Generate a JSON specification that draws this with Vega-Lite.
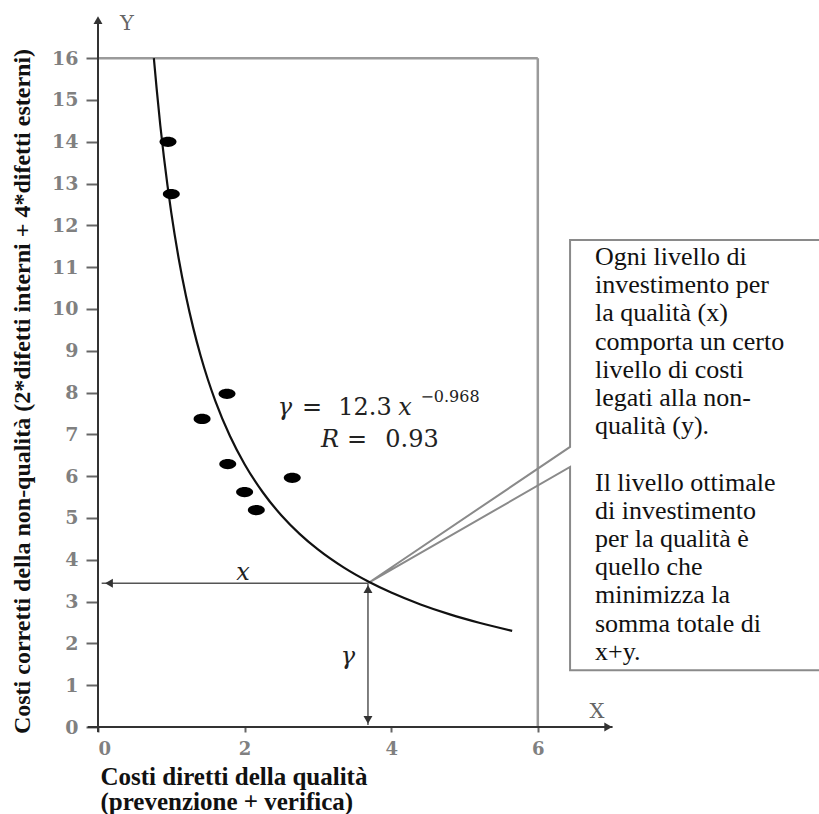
{
  "$schema": "https://vega.github.io/schema/vega-lite/v6.json",
  "width": 721,
  "height": 727,
  "autosize": {"type": "none"},
  "padding": {"left": 98, "top": 0, "right": 0, "bottom": 87},
  "background": "white",
  "config": {"view": {"stroke": null}},
  "datasets": {
    "box": [
      {"x": 0, "y": 16, "x2": 6, "y2": 16},
      {"x": 6, "y": 0, "x2": 6, "y2": 16}
    ],
    "axes": [
      {"x": -0.14, "y": 0, "x2": 7.02, "y2": 0},
      {"x": 0, "y": -0.12, "x2": 0, "y2": 16.95}
    ],
    "dims": [
      {"x": 0.05, "y": 3.44, "x2": 3.683, "y2": 3.44},
      {"x": 3.683, "y": 0.05, "x2": 3.683, "y2": 3.44}
    ],
    "bubble": [
      {"i": 1, "x": 10.2, "y": 11.65},
      {"i": 2, "x": 6.44, "y": 11.65},
      {"i": 3, "x": 6.44, "y": 6.70},
      {"i": 4, "x": 3.683, "y": 3.44},
      {"i": 5, "x": 6.44, "y": 6.22},
      {"i": 6, "x": 6.44, "y": 1.36},
      {"i": 7, "x": 10.2, "y": 1.36}
    ],
    "curve": [
      {"x": 0.762, "y": 16.0},
      {"x": 0.8, "y": 15.27},
      {"x": 0.85, "y": 14.39},
      {"x": 0.9, "y": 13.62},
      {"x": 1.0, "y": 12.3},
      {"x": 1.1, "y": 11.215},
      {"x": 1.2, "y": 10.31},
      {"x": 1.3, "y": 9.542},
      {"x": 1.4, "y": 8.881},
      {"x": 1.5, "y": 8.307},
      {"x": 1.6, "y": 7.804},
      {"x": 1.8, "y": 6.963},
      {"x": 2.0, "y": 6.287},
      {"x": 2.25, "y": 5.61},
      {"x": 2.5, "y": 5.066},
      {"x": 2.75, "y": 4.62},
      {"x": 3.0, "y": 4.247},
      {"x": 3.35, "y": 3.817},
      {"x": 3.7, "y": 3.467},
      {"x": 4.0, "y": 3.215},
      {"x": 4.4, "y": 2.931},
      {"x": 4.8, "y": 2.694},
      {"x": 5.2, "y": 2.494},
      {"x": 5.65, "y": 2.301}
    ],
    "dots": [
      {"x": 0.955, "y": 14.0},
      {"x": 1.0, "y": 12.75},
      {"x": 1.76, "y": 7.97},
      {"x": 1.42, "y": 7.37},
      {"x": 1.77, "y": 6.29},
      {"x": 2.0, "y": 5.62},
      {"x": 2.16, "y": 5.19},
      {"x": 2.65, "y": 5.96}
    ],
    "arrows": [
      {"x": 0, "y": 16.91, "dir": "up"},
      {"x": 6.96, "y": 0, "dir": "right"},
      {"x": 0.15, "y": 3.44, "dir": "left"},
      {"x": 3.683, "y": 3.3, "dir": "up"},
      {"x": 3.683, "y": 0.17, "dir": "down"}
    ],
    "italic": [
      {"x": 2.551, "y": 7.464, "t": "γ"},
      {"x": 4.188, "y": 7.464, "t": "x"},
      {"x": 3.165, "y": 6.699, "t": "R"},
      {"x": 1.978, "y": 3.517, "t": "x"},
      {"x": 3.411, "y": 1.507, "t": "γ"}
    ],
    "regular": [
      {"x": 2.919, "y": 7.464, "t": "="},
      {"x": 3.643, "y": 7.464, "t": "12.3"},
      {"x": 3.533, "y": 6.699, "t": "="},
      {"x": 4.284, "y": 6.699, "t": "0.93"}
    ],
    "sup": [
      {"x": 4.802, "y": 7.775, "t": "−0.968"}
    ],
    "axislabels": [
      {"x": 0.396, "y": 16.67, "t": "Y"},
      {"x": 6.808, "y": 0.215, "t": "X"}
    ],
    "note": [
      {"x": 6.78, "y": 11.053, "t": "Ogni livello di\ninvestimento per\nla qualità (x)\ncomporta un certo\nlivello di costi\nlegati alla non-\nqualità (y)."},
      {"x": 6.78, "y": 5.656, "t": "Il livello ottimale\ndi investimento\nper la qualità è\nquello che\nminimizza la\nsomma totale di\nx+y."}
    ]
  },
  "encoding": {
    "x": {
      "field": "x",
      "type": "quantitative",
      "scale": {"domain": [0, 9.836], "nice": false, "zero": false},
      "axis": {
        "values": [0, 2, 4, 6],
        "domain": false,
        "grid": false,
        "tickSize": 5,
        "tickWidth": 2,
        "tickColor": "#666666",
        "labelFont": "DejaVu Serif",
        "labelFontWeight": "bold",
        "labelFontSize": 18,
        "labelColor": "#808080",
        "labelPadding": 8,
        "title": ["Costi diretti della qualità", "(prevenzione + verifica)"],
        "titleFont": "Liberation Serif",
        "titleFontSize": 25,
        "titleFontWeight": "bold",
        "titleColor": "#111111",
        "titleAnchor": "start",
        "titleAlign": "left",
        "titleBaseline": "alphabetic",
        "titleLineHeight": 25,
        "titleX": 2,
        "titleY": 57
      }
    },
    "y": {
      "field": "y",
      "type": "quantitative",
      "scale": {"domain": [0, 17.392], "nice": false, "zero": false},
      "axis": {
        "values": [0, 1, 2, 3, 4, 5, 6, 7, 8, 9, 10, 11, 12, 13, 14, 15, 16],
        "domain": false,
        "grid": false,
        "tickSize": 12,
        "tickWidth": 2,
        "tickColor": "#666666",
        "labelFont": "DejaVu Serif",
        "labelFontWeight": "bold",
        "labelFontSize": 19,
        "labelColor": "#808080",
        "labelPadding": 8,
        "title": "Costi corretti della non-qualità (2*difetti interni + 4*difetti esterni)",
        "titleFont": "Liberation Serif",
        "titleFontSize": 24,
        "titleFontWeight": "bold",
        "titleColor": "#111111",
        "titleAngle": 270,
        "titleAlign": "center",
        "titleBaseline": "middle",
        "titleX": -76,
        "titleY": 391
      }
    }
  },
  "layer": [
    {
      "data": {"name": "box"},
      "mark": {"type": "rule", "color": "#9a9a9a", "strokeWidth": 2.5},
      "encoding": {"x2": {"field": "x2"}, "y2": {"field": "y2"}}
    },
    {
      "data": {"name": "axes"},
      "mark": {"type": "rule", "color": "#333333", "strokeWidth": 2},
      "encoding": {"x2": {"field": "x2"}, "y2": {"field": "y2"}}
    },
    {
      "data": {"name": "dims"},
      "mark": {"type": "rule", "color": "#555555", "strokeWidth": 1.5},
      "encoding": {"x2": {"field": "x2"}, "y2": {"field": "y2"}}
    },
    {
      "data": {"name": "bubble"},
      "mark": {"type": "line", "color": "#8a8a8a", "strokeWidth": 2, "strokeJoin": "miter"},
      "encoding": {"order": {"field": "i", "type": "quantitative"}}
    },
    {
      "data": {"name": "curve"},
      "mark": {"type": "line", "color": "#111111", "strokeWidth": 2.2, "interpolate": "monotone"},
      "encoding": {"order": {"field": "x", "type": "quantitative"}}
    },
    {
      "data": {"name": "dots"},
      "mark": {
        "type": "point",
        "filled": true,
        "opacity": 1,
        "color": "#000000",
        "size": 289,
        "shape": "M -1 0 A 1 0.6 0 1 1 1 0 A 1 0.6 0 1 1 -1 0 Z"
      }
    },
    {
      "data": {"name": "arrows"},
      "mark": {"type": "point", "filled": true, "opacity": 1, "color": "#333333", "size": 80},
      "encoding": {
        "shape": {
          "field": "dir",
          "type": "nominal",
          "scale": {
            "domain": ["up", "down", "left", "right"],
            "range": ["triangle-up", "triangle-down", "triangle-left", "triangle-right"]
          },
          "legend": null
        }
      }
    },
    {
      "data": {"name": "italic"},
      "mark": {"type": "text", "font": "DejaVu Serif", "fontStyle": "italic", "fontSize": 24, "color": "#222222", "align": "center", "baseline": "alphabetic"},
      "encoding": {"text": {"field": "t"}}
    },
    {
      "data": {"name": "regular"},
      "mark": {"type": "text", "font": "DejaVu Serif", "fontSize": 24, "color": "#222222", "align": "center", "baseline": "alphabetic"},
      "encoding": {"text": {"field": "t"}}
    },
    {
      "data": {"name": "sup"},
      "mark": {"type": "text", "font": "DejaVu Serif", "fontSize": 16, "color": "#222222", "align": "center", "baseline": "alphabetic"},
      "encoding": {"text": {"field": "t"}}
    },
    {
      "data": {"name": "axislabels"},
      "mark": {"type": "text", "font": "DejaVu Serif", "fontSize": 21, "color": "#666666", "align": "center", "baseline": "alphabetic"},
      "encoding": {"text": {"field": "t"}}
    },
    {
      "data": {"name": "note"},
      "mark": {"type": "text", "font": "Liberation Serif", "fontSize": 26, "color": "#111111", "align": "left", "baseline": "alphabetic", "lineBreak": "\n", "lineHeight": 28.2},
      "encoding": {"text": {"field": "t"}}
    }
  ]
}
